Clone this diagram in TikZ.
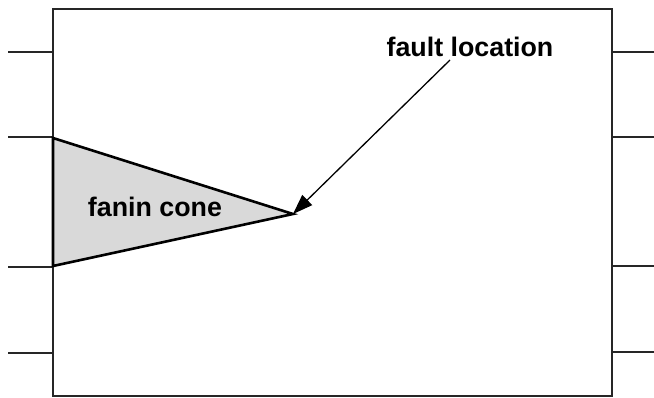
\documentclass[tikz,border=0pt]{standalone}
\usepackage{fontspec}
\setmainfont{Liberation Sans}
\usetikzlibrary{arrows.meta}
\begin{document}
\begin{tikzpicture}[x=1pt,y=-1pt,
  wire/.style={line width=1.5pt,draw=black!85},
  block/.style={line width=1.6pt,draw=black!85},
  cone/.style={line width=2.6pt,draw=black,fill=black!15,line join=miter},
  lbl/.style={font=\fontsize{26.8}{30}\selectfont\bfseries,inner sep=0pt},
  pointer/.style={line width=1.3pt,-{Triangle[length=20pt,width=14pt]}}]
\useasboundingbox (0,0) rectangle (654,397);
% circuit block
\draw[block] (53,9) rectangle (612,396);
% primary inputs
\foreach \yy/\nm in {52/i1,137/i2,267/i3,353/i4}{
  \coordinate (\nm a) at (8,\yy);
  \coordinate (\nm b) at (53,\yy);
  \draw[wire] (\nm a) -- (\nm b);
}
% primary outputs
\foreach \yy/\nm in {52/o1,137/o2,266/o3,352/o4}{
  \coordinate (\nm a) at (612,\yy);
  \coordinate (\nm b) at (654,\yy);
  \draw[wire] (\nm a) -- (\nm b);
}
% fanin cone of the fault site
\coordinate (ctop) at (53,138);
\coordinate (cbot) at (53,266);
\coordinate (apex) at (293,214);
\draw[cone] (ctop) -- (apex) -- (cbot) -- cycle;
\node[lbl] (fanin) at (155,207) {fanin cone};
\node[lbl] (fault) at (470,47) {fault location};
\coordinate (tail) at (450,60);
\draw[pointer] (tail) -- (apex);
\end{tikzpicture}
\end{document}
